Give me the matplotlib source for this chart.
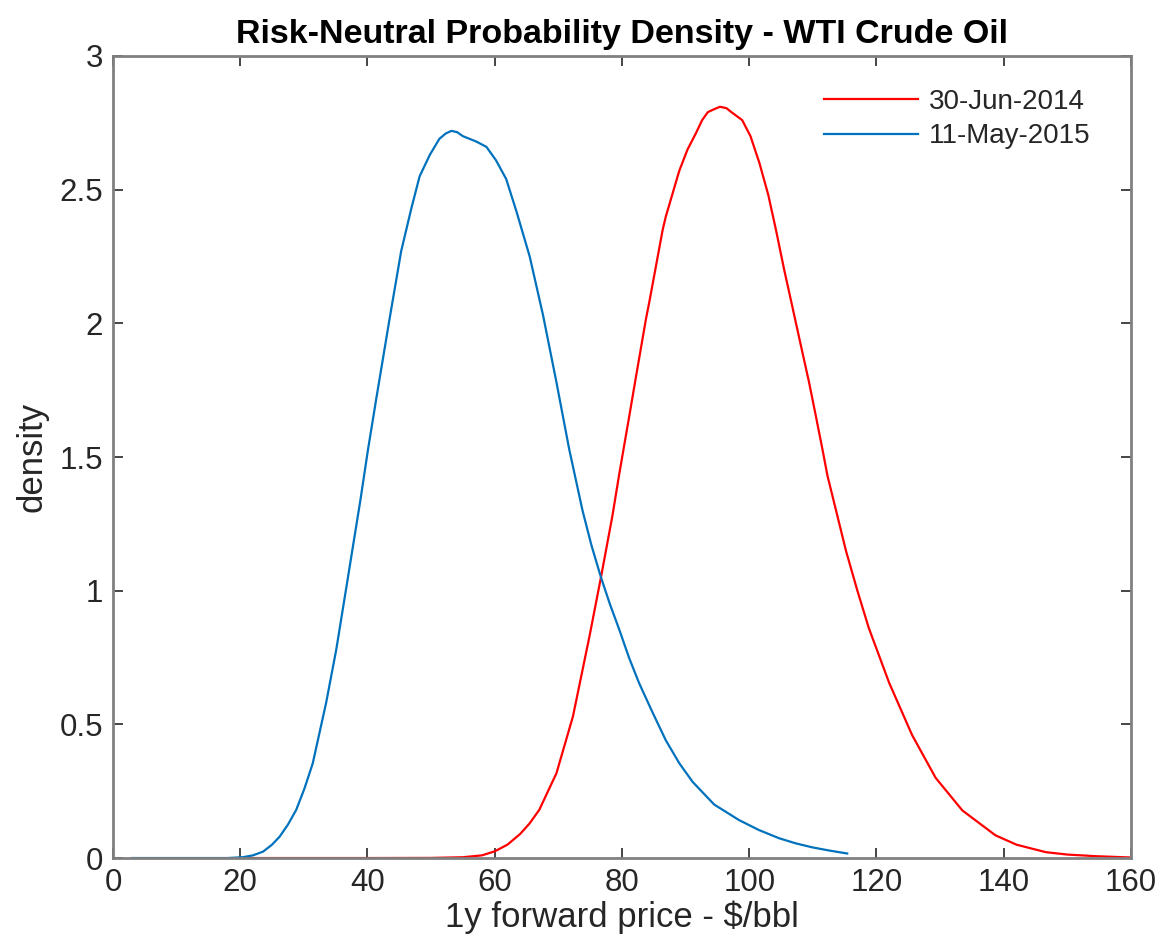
import matplotlib
matplotlib.use("Agg")
import matplotlib.pyplot as plt

plt.rcParams['font.family'] = ['Liberation Sans', 'DejaVu Sans']

# 30-Jun-2014 density
x_2014 = [20, 30, 40, 50, 55, 58, 60, 62, 64, 65.5, 67, 69.7, 72.3, 74.9, 76.7, 78.5,
          79.6, 80.4, 81.2, 82.2, 83.8, 84.3, 86.4, 86.9, 89.0, 90.3, 91.6, 92.6, 93.5,
          94.4, 95.4, 96.4, 97.2, 98.9, 100.2, 101.6, 103.0, 104.2, 105.5, 106.8, 108.0,
          109.4, 110.5, 111.5, 112.3, 115.2, 117.0, 118.8, 122.0, 125.6, 129.3, 133.5,
          138.7, 142.0, 146.6, 150.0, 154.4, 160]
y_2014 = [0, 0, 0, 0.0005, 0.003, 0.01, 0.025, 0.05, 0.09, 0.13, 0.18, 0.317, 0.53, 0.83,
          1.05, 1.28, 1.44, 1.55, 1.66, 1.80, 2.02, 2.08, 2.35, 2.40, 2.57, 2.65, 2.71,
          2.76, 2.79, 2.80, 2.81, 2.805, 2.79, 2.76, 2.70, 2.60, 2.48, 2.35, 2.20, 2.06,
          1.93, 1.78, 1.65, 1.53, 1.43, 1.15, 1.0, 0.86, 0.655, 0.46, 0.30, 0.178,
          0.085, 0.05, 0.022, 0.013, 0.007, 0.002]

# 11-May-2015 density
x_2015 = [3, 10, 18, 20.4, 22.0, 23.6, 25.0, 26.2, 27.5, 28.8, 30.1, 31.4, 33.5, 35.1,
          36.8, 38.9, 40.1, 41.4, 43.5, 45.3, 46.9, 48.2, 49.8, 51.3, 52.3, 53.2, 54.1,
          55.0, 57.1, 58.7, 60.2, 61.8, 63.4, 65.5, 67.6, 69.7, 71.7, 73.8, 75.2, 76.7,
          78.1, 79.6, 81.1, 82.7, 84.7, 86.9, 89.0, 91.1, 94.5, 98.4, 101.5, 104.7,
          107.3, 109.9, 112.6, 115.4]
y_2015 = [0, 0, 0, 0.003, 0.01, 0.024, 0.05, 0.08, 0.125, 0.18, 0.26, 0.354, 0.58, 0.78,
          1.03, 1.34, 1.53, 1.72, 2.02, 2.27, 2.43, 2.55, 2.63, 2.69, 2.71, 2.72, 2.715,
          2.70, 2.68, 2.66, 2.61, 2.54, 2.42, 2.25, 2.03, 1.78, 1.53, 1.30, 1.17, 1.05,
          0.95, 0.853, 0.75, 0.654, 0.55, 0.44, 0.355, 0.285, 0.20, 0.142, 0.105, 0.074,
          0.055, 0.04, 0.028, 0.017]

labels = ['30-Jun-2014', '11-May-2015']
x_ticks = [0, 20, 40, 60, 80, 100, 120, 140, 160]
y_ticks = [0, 0.5, 1, 1.5, 2, 2.5, 3]
y_ticklabels = ['0', '0.5', '1', '1.5', '2', '2.5', '3']

fig = plt.figure(figsize=(11.62, 9.52), dpi=100)
ax = fig.add_axes([0.0972, 0.0987, 0.8761, 0.8425])

ax.plot(x_2014, y_2014, color='#FF0000', lw=1.6, label=labels[0])
ax.plot(x_2015, y_2015, color='#0072BD', lw=1.6, label=labels[1])

ax.set_xlim(0, 160)
ax.set_ylim(0, 3)
ax.set_xticks(x_ticks)
ax.set_yticks(y_ticks)
ax.set_yticklabels(y_ticklabels)

txt = '#262626'
for s in ax.spines.values():
    s.set_color('#808080')
    s.set_linewidth(2)
ax.tick_params(direction='in', length=7, width=1.2, color='#262626',
               top=True, right=True, labelsize=22.5, labelcolor=txt, pad=7)

ax.set_title('Risk-Neutral Probability Density - WTI Crude Oil', fontsize=24.5,
             fontweight='bold', color='black', pad=9)
ax.set_xlabel('1y forward price - $/bbl', fontsize=25, color=txt, labelpad=2)
ax.set_ylabel('density', fontsize=25, color=txt, labelpad=8)

leg = ax.legend(loc='upper right', frameon=False, fontsize=20, handlelength=3.4,
                handletextpad=0.4, labelspacing=0.3, bbox_to_anchor=(0.985, 0.99))
for t in leg.get_texts():
    t.set_color(txt)

fig.savefig('out.png', dpi=100)
